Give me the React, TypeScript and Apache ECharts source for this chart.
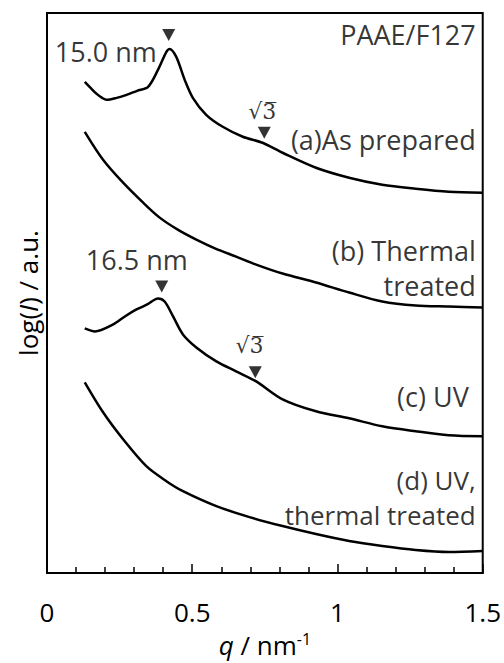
import React, { useEffect, useRef } from "react";
import * as echarts from "echarts";

// q (nm^-1) values and log(I) (a.u., offset curves)
const curveA: [number, number][] = [
  [0.130, 492], [0.150, 486], [0.171, 480], [0.19, 476], [0.205, 474], [0.24, 476], [0.274, 479], [0.31, 483],
  [0.348, 487], [0.382, 504], [0.411, 522], [0.422, 525], [0.445, 517], [0.474, 494], [0.502, 476],
  [0.548, 459], [0.605, 447], [0.674, 437], [0.742, 431], [0.811, 421], [0.926, 406], [1.04, 396],
  [1.154, 389], [1.269, 385], [1.383, 382], [1.5, 381],
];
const curveB: [number, number][] = [
  [0.130, 442], [0.193, 414], [0.262, 391], [0.331, 371], [0.388, 356], [0.45, 344], [0.514, 334],
  [0.58, 325], [0.651, 317], [0.72, 309], [0.811, 300], [0.926, 291], [1.04, 281], [1.154, 272],
  [1.269, 268], [1.383, 267], [1.5, 266],
];
const curveC: [number, number][] = [
  [0.130, 245], [0.165, 242], [0.228, 249], [0.268, 257], [0.308, 264], [0.345, 269], [0.382, 275],
  [0.405, 272], [0.434, 257], [0.468, 239], [0.514, 226], [0.583, 212], [0.651, 202], [0.72, 192],
  [0.811, 174], [0.926, 162], [1.04, 155], [1.154, 147], [1.269, 142], [1.383, 138], [1.5, 137],
];
const curveD: [number, number][] = [
  [0.130, 191], [0.193, 161], [0.262, 134], [0.342, 107], [0.411, 92], [0.468, 82], [0.583, 67],
  [0.697, 56], [0.811, 47], [0.926, 39], [1.04, 32], [1.154, 27], [1.269, 23], [1.383, 21], [1.5, 22],
];

// peak markers (down triangles)
const markers: [number, number][] = [
  [0.419, 539], [0.748, 441], [0.395, 287], [0.717, 201],
];

// text annotations: [q, y, text, align]
const annotations: [number, number, string, string][] = [
  [0.378, 522, "15.0 nm", "right"],
  [0.741, 462, "√3̅", "center"],
  [0.309, 314, "16.5 nm", "center"],
  [0.697, 228, "√3̅", "center"],
  [1.476, 539, "PAAE/F127", "right"],
  [1.476, 434, "(a)As prepared", "right"],
  [1.476, 306, "(b) Thermal\ntreated", "right"],
  [1.452, 177, "(c) UV", "right"],
  [1.476, 76, "(d) UV,\nthermal treated", "right"],
];

const FONT = "Open Sans";

export default function App() {
  const ref = useRef<HTMLDivElement>(null);
  useEffect(() => {
    const chart = echarts.init(ref.current!, null, { renderer: "svg" });
    const lineSeries = (data: [number, number][]) => ({
      type: "line",
      data,
      showSymbol: false,
      smooth: 0.3,
      lineStyle: { color: "#000", width: 2.5 },
      z: 2,
    });
    chart.setOption({
      animation: false,
      textStyle: { fontFamily: FONT },
      grid: {
        left: 47, right: 20, top: 13, bottom: 89,
        show: true, borderColor: "#000", borderWidth: 2,
      },
      xAxis: {
        type: "value", min: 0, max: 1.5, interval: 0.5,
        axisLine: { show: true, lineStyle: { color: "#000", width: 2 } },
        axisTick: { show: true, inside: true, length: 9, lineStyle: { color: "#000", width: 1.5 } },
        minorTick: { show: true, splitNumber: 5, length: 6, lineStyle: { color: "#000", width: 1.5 } },
        splitLine: { show: false },
        axisLabel: { color: "#000", fontSize: 26, margin: 26, fontFamily: FONT, showMinLabel: true, showMaxLabel: true },
        name: "{i|q} / nm{s|-1}",
        nameLocation: "middle",
        nameGap: 58,
        nameTextStyle: {
          color: "#000", fontSize: 26, fontFamily: FONT,
          rich: {
            i: { fontStyle: "italic", fontSize: 26, fontFamily: FONT, color: "#000" },
            s: { fontSize: 16, fontFamily: FONT, color: "#000", verticalAlign: "top", padding: [0, 0, 12, 0] },
          },
        },
      },
      yAxis: {
        type: "value", min: 0, max: 561,
        axisLine: { show: true, lineStyle: { color: "#000", width: 2 } },
        axisTick: { show: false },
        axisLabel: { show: false },
        splitLine: { show: false },
        name: "log({i|I}) / a.u.",
        nameLocation: "middle",
        nameRotate: 90,
        nameGap: 6,
        nameTextStyle: {
          color: "#000", fontSize: 26, fontFamily: FONT,
          rich: { i: { fontStyle: "italic", fontSize: 26, fontFamily: FONT, color: "#000" } },
        },
      },
      series: [
        lineSeries(curveA),
        lineSeries(curveB),
        lineSeries(curveC),
        lineSeries(curveD),
        {
          type: "scatter",
          data: markers,
          symbol: "triangle",
          symbolRotate: 180,
          symbolSize: [13, 12],
          itemStyle: { color: "#000" },
          z: 3,
        },
        {
          type: "scatter",
          symbolSize: 1,
          itemStyle: { color: "rgba(0,0,0,0)" },
          data: annotations.map(([q, y, t, a]) => {
            const isD = t.startsWith("(d)");
            const isRoot = t.startsWith("√");
            return {
              value: [q, y],
              label: {
                show: true,
                position: "inside",
                formatter: t,
                align: a,
                verticalAlign: "middle",
                color: "#000",
                lineHeight: 35,
                fontSize: isRoot ? 22 : isD ? 26 : 27,
                fontFamily: isRoot ? "DejaVu Serif" : FONT,
              },
            };
          }),
          z: 4,
        },
      ],
    });
    return () => chart.dispose();
  }, []);
  return (
    <div
      ref={ref}
      style={{ position: "fixed", left: 0, top: 0, width: 504, height: 663, background: "#fff" }}
    />
  );
}
